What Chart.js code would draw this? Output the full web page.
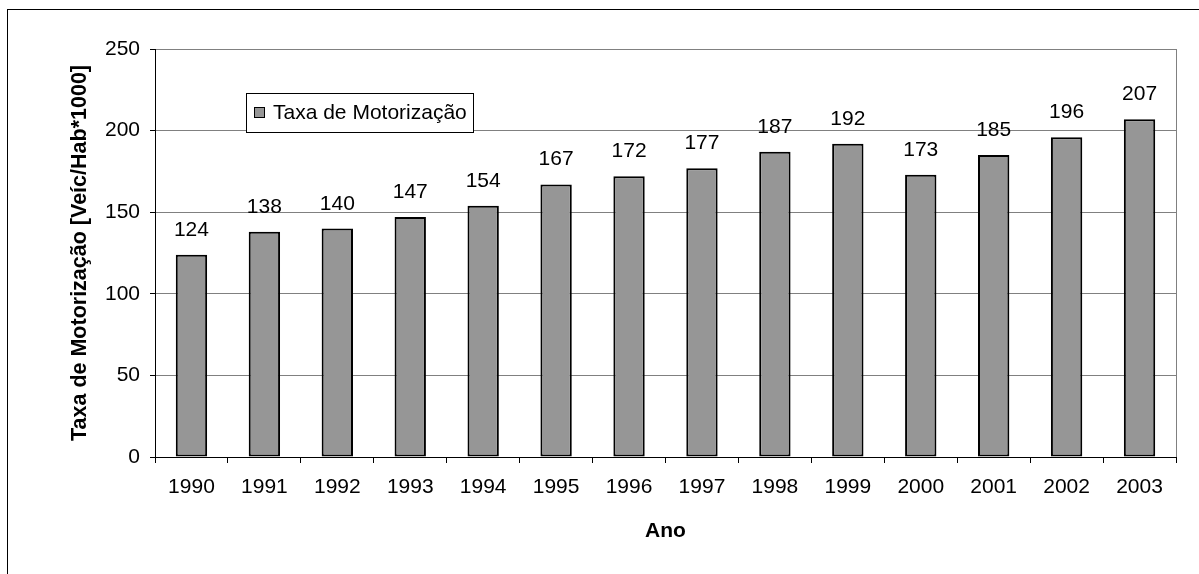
<!DOCTYPE html>
<html>
<head>
<meta charset="utf-8">
<script src="https://cdn.jsdelivr.net/npm/chart.js@4/dist/chart.umd.min.js"></script>
<style>
  html, body { margin: 0; padding: 0; background: #fff; }
  #wrap { width: 1199px; height: 574px; position: relative; }
</style>
</head>
<body>
<div id="wrap"><canvas id="barChart"></canvas></div>
<script>
// dados
var anos = ['1990', '1991', '1992', '1993', '1994', '1995', '1996', '1997', '1998', '1999', '2000', '2001', '2002', '2003'];
var taxa = [124, 138, 140, 147, 154, 167, 172, 177, 187, 192, 173, 185, 196, 207];
var serieNome = 'Taxa de Motorização';
var yMax = 250;
var yPasso = 50;

var fonte = 'Arial, "Liberation Sans", sans-serif';

// moldura externa, borda direita do grafico, rotulos e legenda
var extras = {
  id: 'extras',
  beforeDraw: function(chart) {
    var c = chart.ctx;
    c.save();
    c.fillStyle = '#fff';
    c.fillRect(0, 0, chart.width, chart.height);
    c.strokeStyle = '#000';
    c.lineWidth = 1;
    c.strokeRect(7.5, 9.5, chart.width + 20, chart.height + 20);
    c.restore();
  },
  afterDatasetsDraw: function(chart) {
    var c = chart.ctx;
    var a = chart.chartArea;
    c.save();
    // borda direita
    c.strokeStyle = '#808080';
    c.lineWidth = 1;
    c.beginPath();
    c.moveTo(Math.round(a.right) + 0.5, a.top);
    c.lineTo(Math.round(a.right) + 0.5, a.bottom);
    c.stroke();

    // valores acima das barras
    var meta = chart.getDatasetMeta(0);
    c.fillStyle = '#000';
    c.font = '21px ' + fonte;
    c.textAlign = 'center';
    c.textBaseline = 'alphabetic';
    meta.data.forEach(function(bar, i) {
      c.fillText(chart.data.datasets[0].data[i], bar.x, bar.y - 19);
    });

    // legenda
    var lx = 246, ly = 93, lw = 227, lh = 39;
    c.fillStyle = '#fff';
    c.fillRect(lx, ly, lw, lh);
    c.strokeStyle = '#000';
    c.strokeRect(lx + 0.5, ly + 0.5, lw, lh);
    c.fillStyle = '#969696';
    c.fillRect(254, 107, 11, 11);
    c.strokeRect(254.5, 107.5, 10, 10);
    c.fillStyle = '#000';
    c.textAlign = 'left';
    c.textBaseline = 'middle';
    c.fillText(chart.data.datasets[0].label, 273, 113);
    c.restore();
  }
};

var ctx = document.getElementById('barChart').getContext('2d');
var barChart = new Chart(ctx, {
  type: 'bar',
  data: {
    labels: anos,
    datasets: [{
      label: serieNome,
      data: taxa,
      backgroundColor: '#969696',
      borderColor: '#000',
      borderWidth: 2,
      borderSkipped: false,
      barPercentage: 0.43,
      categoryPercentage: 1.0
    }]
  },
  options: {
    responsive: true,
    maintainAspectRatio: false,
    animation: false,
    layout: { padding: { top: 49, right: 23, left: 0, bottom: 0 } },
    plugins: {
      legend: { display: false },
      tooltip: { enabled: false }
    },
    scales: {
      x: {
        offset: true,
        grid: {
          offset: true,
          drawOnChartArea: false,
          color: '#000',
          tickLength: 6
        },
        border: { color: '#000', width: 1 },
        ticks: {
          color: '#000',
          font: { family: fonte, size: 21 },
          padding: 12,
          maxRotation: 0,
          autoSkip: false
        },
        title: {
          display: true,
          text: 'Ano',
          color: '#000',
          font: { family: fonte, size: 21, weight: 'bold' },
          padding: { top: 0, bottom: 30 }
        },
        afterFit: function(scale) { scale.height = 117; }
      },
      y: {
        min: 0,
        max: yMax,
        grid: {
          color: '#808080',
          tickColor: '#000',
          tickLength: 5
        },
        border: { color: '#000', width: 1 },
        ticks: {
          stepSize: yPasso,
          color: '#000',
          font: { family: fonte, size: 21 },
          padding: 10
        },
        title: {
          display: true,
          text: 'Taxa de Motorização [Veíc/Hab*1000]',
          color: '#000',
          font: { family: fonte, size: 21.5, weight: 'bold' },
          padding: { top: 67, bottom: 0 }
        },
        afterFit: function(scale) { scale.width = 155; }
      }
    }
  },
  plugins: [extras]
});
</script>
</body>
</html>
